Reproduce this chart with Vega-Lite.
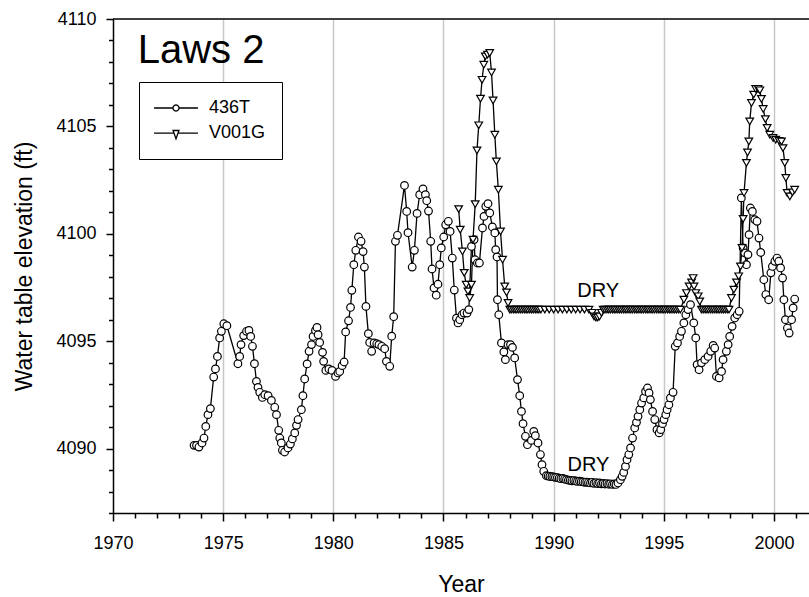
{
  "$schema": "https://vega.github.io/schema/vega-lite/v6.json",
  "width": 696,
  "height": 494,
  "autosize": "none",
  "padding": {"left": 113, "top": 19, "right": 0, "bottom": 84},
  "background": "white",
  "config": {
    "view": {"stroke": null},
    "font": "Liberation Sans"
  },
  "datasets": {
    "wells": [
      {"s":"436T","t":1973.68,"v":4090.15},{"s":"436T","t":1973.79,"v":4090.15},{"s":"436T","t":1973.90,"v":4090.07},{"s":"436T","t":1974.04,"v":4090.26},{"s":"436T","t":1974.13,"v":4090.49},{"s":"436T","t":1974.21,"v":4091.03},{"s":"436T","t":1974.31,"v":4091.58},{"s":"436T","t":1974.42,"v":4091.86},{"s":"436T","t":1974.57,"v":4093.33},{"s":"436T","t":1974.65,"v":4093.71},{"s":"436T","t":1974.74,"v":4094.29},{"s":"436T","t":1974.84,"v":4095.15},{"s":"436T","t":1974.92,"v":4095.46},{"s":"436T","t":1975.03,"v":4095.81},{"s":"436T","t":1975.17,"v":4095.72},{"s":"436T","t":1975.67,"v":4093.95},{"s":"436T","t":1975.75,"v":4094.29},{"s":"436T","t":1975.81,"v":4094.84},{"s":"436T","t":1975.93,"v":4095.26},{"s":"436T","t":1976.06,"v":4095.46},{"s":"436T","t":1976.17,"v":4095.50},{"s":"436T","t":1976.25,"v":4095.22},{"s":"436T","t":1976.33,"v":4094.76},{"s":"436T","t":1976.42,"v":4093.95},{"s":"436T","t":1976.51,"v":4093.13},{"s":"436T","t":1976.58,"v":4092.85},{"s":"436T","t":1976.66,"v":4092.62},{"s":"436T","t":1976.78,"v":4092.38},{"s":"436T","t":1976.89,"v":4092.51},{"s":"436T","t":1977.04,"v":4092.46},{"s":"436T","t":1977.19,"v":4092.24},{"s":"436T","t":1977.34,"v":4091.92},{"s":"436T","t":1977.42,"v":4091.58},{"s":"436T","t":1977.52,"v":4090.85},{"s":"436T","t":1977.57,"v":4090.49},{"s":"436T","t":1977.64,"v":4090.26},{"s":"436T","t":1977.69,"v":4089.92},{"s":"436T","t":1977.79,"v":4089.84},{"s":"436T","t":1977.94,"v":4090.03},{"s":"436T","t":1978.05,"v":4090.21},{"s":"436T","t":1978.14,"v":4090.45},{"s":"436T","t":1978.25,"v":4090.73},{"s":"436T","t":1978.33,"v":4091.08},{"s":"436T","t":1978.40,"v":4091.35},{"s":"436T","t":1978.55,"v":4091.81},{"s":"436T","t":1978.62,"v":4092.46},{"s":"436T","t":1978.70,"v":4093.24},{"s":"436T","t":1978.81,"v":4093.94},{"s":"436T","t":1978.90,"v":4094.53},{"s":"436T","t":1979.01,"v":4094.84},{"s":"436T","t":1979.08,"v":4095.22},{"s":"436T","t":1979.19,"v":4095.50},{"s":"436T","t":1979.26,"v":4095.64},{"s":"436T","t":1979.31,"v":4095.30},{"s":"436T","t":1979.38,"v":4094.94},{"s":"436T","t":1979.51,"v":4094.48},{"s":"436T","t":1979.56,"v":4094.06},{"s":"436T","t":1979.66,"v":4093.64},{"s":"436T","t":1979.80,"v":4093.71},{"s":"436T","t":1979.94,"v":4093.64},{"s":"436T","t":1980.10,"v":4093.36},{"s":"436T","t":1980.21,"v":4093.52},{"s":"436T","t":1980.29,"v":4093.59},{"s":"436T","t":1980.40,"v":4093.86},{"s":"436T","t":1980.49,"v":4094.03},{"s":"436T","t":1980.56,"v":4095.43},{"s":"436T","t":1980.69,"v":4095.95},{"s":"436T","t":1980.78,"v":4096.57},{"s":"436T","t":1980.84,"v":4097.37},{"s":"436T","t":1980.93,"v":4098.56},{"s":"436T","t":1981.02,"v":4099.23},{"s":"436T","t":1981.14,"v":4099.85},{"s":"436T","t":1981.26,"v":4099.65},{"s":"436T","t":1981.35,"v":4099.17},{"s":"436T","t":1981.41,"v":4098.45},{"s":"436T","t":1981.48,"v":4096.62},{"s":"436T","t":1981.59,"v":4095.35},{"s":"436T","t":1981.65,"v":4094.94},{"s":"436T","t":1981.74,"v":4094.53},{"s":"436T","t":1981.85,"v":4094.92},{"s":"436T","t":1981.97,"v":4094.88},{"s":"436T","t":1982.07,"v":4094.84},{"s":"436T","t":1982.20,"v":4094.76},{"s":"436T","t":1982.33,"v":4094.65},{"s":"436T","t":1982.41,"v":4094.06},{"s":"436T","t":1982.56,"v":4093.83},{"s":"436T","t":1982.65,"v":4095.23},{"s":"436T","t":1982.74,"v":4096.14},{"s":"436T","t":1982.82,"v":4099.65},{"s":"436T","t":1982.91,"v":4099.93},{"s":"436T","t":1983.23,"v":4102.25},{"s":"436T","t":1983.33,"v":4101.04},{"s":"436T","t":1983.39,"v":4100.05},{"s":"436T","t":1983.58,"v":4098.45},{"s":"436T","t":1983.68,"v":4099.23},{"s":"436T","t":1983.80,"v":4100.95},{"s":"436T","t":1983.92,"v":4101.82},{"s":"436T","t":1984.07,"v":4102.09},{"s":"436T","t":1984.18,"v":4101.82},{"s":"436T","t":1984.24,"v":4101.54},{"s":"436T","t":1984.32,"v":4101.06},{"s":"436T","t":1984.42,"v":4099.65},{"s":"436T","t":1984.48,"v":4098.36},{"s":"436T","t":1984.57,"v":4097.48},{"s":"436T","t":1984.67,"v":4097.14},{"s":"436T","t":1984.75,"v":4097.65},{"s":"436T","t":1984.83,"v":4098.56},{"s":"436T","t":1984.90,"v":4099.34},{"s":"436T","t":1985.01,"v":4099.85},{"s":"436T","t":1985.10,"v":4100.42},{"s":"436T","t":1985.22,"v":4100.58},{"s":"436T","t":1985.30,"v":4100.11},{"s":"436T","t":1985.40,"v":4098.87},{"s":"436T","t":1985.49,"v":4097.38},{"s":"436T","t":1985.59,"v":4096.07},{"s":"436T","t":1985.66,"v":4095.85},{"s":"436T","t":1985.74,"v":4096.00},{"s":"436T","t":1985.84,"v":4096.23},{"s":"436T","t":1985.93,"v":4096.31},{"s":"436T","t":1986.07,"v":4096.31},{"s":"436T","t":1986.15,"v":4096.47},{"s":"436T","t":1986.27,"v":4099.41},{"s":"436T","t":1986.39,"v":4099.73},{"s":"436T","t":1986.43,"v":4098.79},{"s":"436T","t":1986.54,"v":4098.64},{"s":"436T","t":1986.63,"v":4098.64},{"s":"436T","t":1986.77,"v":4100.27},{"s":"436T","t":1986.84,"v":4100.81},{"s":"436T","t":1986.92,"v":4101.28},{"s":"436T","t":1987.02,"v":4101.40},{"s":"436T","t":1987.10,"v":4100.97},{"s":"436T","t":1987.22,"v":4100.32},{"s":"436T","t":1987.33,"v":4100.04},{"s":"436T","t":1987.37,"v":4099.26},{"s":"436T","t":1987.43,"v":4098.92},{"s":"436T","t":1987.45,"v":4096.93},{"s":"436T","t":1987.51,"v":4096.23},{"s":"436T","t":1987.63,"v":4094.92},{"s":"436T","t":1987.74,"v":4094.50},{"s":"436T","t":1987.81,"v":4094.14},{"s":"436T","t":1987.93,"v":4094.84},{"s":"436T","t":1988.04,"v":4094.84},{"s":"436T","t":1988.13,"v":4094.71},{"s":"436T","t":1988.23,"v":4094.22},{"s":"436T","t":1988.36,"v":4093.21},{"s":"436T","t":1988.46,"v":4092.46},{"s":"436T","t":1988.54,"v":4091.73},{"s":"436T","t":1988.61,"v":4091.16},{"s":"436T","t":1988.72,"v":4090.57},{"s":"436T","t":1988.81,"v":4090.18},{"s":"436T","t":1988.99,"v":4090.38},{"s":"436T","t":1989.10,"v":4090.80},{"s":"436T","t":1989.17,"v":4090.60},{"s":"436T","t":1989.29,"v":4090.26},{"s":"436T","t":1989.40,"v":4089.72},{"s":"436T","t":1989.47,"v":4089.25},{"s":"436T","t":1989.55,"v":4088.94},{"s":"436T","t":1989.67,"v":4088.74},
      {"s":"436T","t":1989.75,"v":4088.72},{"s":"436T","t":1989.83,"v":4088.70},{"s":"436T","t":1989.92,"v":4088.69},{"s":"436T","t":1990.00,"v":4088.68},{"s":"436T","t":1990.08,"v":4088.66},{"s":"436T","t":1990.17,"v":4088.65},{"s":"436T","t":1990.25,"v":4088.62},{"s":"436T","t":1990.33,"v":4088.60},{"s":"436T","t":1990.42,"v":4088.61},{"s":"436T","t":1990.50,"v":4088.58},{"s":"436T","t":1990.58,"v":4088.55},{"s":"436T","t":1990.67,"v":4088.53},{"s":"436T","t":1990.75,"v":4088.52},{"s":"436T","t":1990.83,"v":4088.50},{"s":"436T","t":1990.92,"v":4088.51},{"s":"436T","t":1991.00,"v":4088.49},{"s":"436T","t":1991.08,"v":4088.47},{"s":"436T","t":1991.17,"v":4088.48},{"s":"436T","t":1991.25,"v":4088.46},{"s":"436T","t":1991.33,"v":4088.45},{"s":"436T","t":1991.42,"v":4088.43},{"s":"436T","t":1991.50,"v":4088.44},{"s":"436T","t":1991.58,"v":4088.42},{"s":"436T","t":1991.67,"v":4088.40},{"s":"436T","t":1991.75,"v":4088.43},{"s":"436T","t":1991.83,"v":4088.38},{"s":"436T","t":1991.92,"v":4088.41},{"s":"436T","t":1992.00,"v":4088.37},{"s":"436T","t":1992.08,"v":4088.40},{"s":"436T","t":1992.17,"v":4088.36},{"s":"436T","t":1992.25,"v":4088.38},{"s":"436T","t":1992.33,"v":4088.35},{"s":"436T","t":1992.42,"v":4088.37},{"s":"436T","t":1992.50,"v":4088.34},{"s":"436T","t":1992.58,"v":4088.36},{"s":"436T","t":1992.67,"v":4088.33},{"s":"436T","t":1992.75,"v":4088.35},{"s":"436T","t":1992.83,"v":4088.33},
      {"s":"436T","t":1992.92,"v":4088.40},{"s":"436T","t":1993.03,"v":4088.55},{"s":"436T","t":1993.11,"v":4088.71},{"s":"436T","t":1993.18,"v":4088.89},{"s":"436T","t":1993.26,"v":4089.17},{"s":"436T","t":1993.33,"v":4089.48},{"s":"436T","t":1993.41,"v":4089.72},{"s":"436T","t":1993.49,"v":4090.03},{"s":"436T","t":1993.58,"v":4090.49},{"s":"436T","t":1993.68,"v":4090.96},{"s":"436T","t":1993.76,"v":4091.22},{"s":"436T","t":1993.83,"v":4091.50},{"s":"436T","t":1993.91,"v":4091.81},{"s":"436T","t":1993.99,"v":4092.12},{"s":"436T","t":1994.09,"v":4092.36},{"s":"436T","t":1994.17,"v":4092.66},{"s":"436T","t":1994.26,"v":4092.82},{"s":"436T","t":1994.33,"v":4092.59},{"s":"436T","t":1994.39,"v":4092.28},{"s":"436T","t":1994.49,"v":4091.73},{"s":"436T","t":1994.59,"v":4091.35},{"s":"436T","t":1994.69,"v":4090.88},{"s":"436T","t":1994.79,"v":4090.73},{"s":"436T","t":1994.86,"v":4090.88},{"s":"436T","t":1994.94,"v":4091.16},{"s":"436T","t":1995.01,"v":4091.35},{"s":"436T","t":1995.09,"v":4091.58},{"s":"436T","t":1995.15,"v":4091.81},{"s":"436T","t":1995.23,"v":4092.04},{"s":"436T","t":1995.30,"v":4092.36},{"s":"436T","t":1995.42,"v":4092.62},{"s":"436T","t":1995.52,"v":4094.76},{"s":"436T","t":1995.62,"v":4094.92},{"s":"436T","t":1995.72,"v":4095.22},{"s":"436T","t":1995.80,"v":4095.46},{"s":"436T","t":1995.91,"v":4095.85},{"s":"436T","t":1996.00,"v":4096.23},{"s":"436T","t":1996.10,"v":4096.47},{"s":"436T","t":1996.21,"v":4096.70},{"s":"436T","t":1996.36,"v":4095.85},{"s":"436T","t":1996.45,"v":4095.15},{"s":"436T","t":1996.51,"v":4093.91},{"s":"436T","t":1996.60,"v":4093.67},{"s":"436T","t":1996.71,"v":4093.99},{"s":"436T","t":1996.86,"v":4094.14},{"s":"436T","t":1997.01,"v":4094.29},{"s":"436T","t":1997.13,"v":4094.53},{"s":"436T","t":1997.24,"v":4094.80},{"s":"436T","t":1997.31,"v":4094.68},{"s":"436T","t":1997.39,"v":4093.36},{"s":"436T","t":1997.51,"v":4093.29},{"s":"436T","t":1997.62,"v":4093.59},{"s":"436T","t":1997.69,"v":4094.14},{"s":"436T","t":1997.84,"v":4094.53},{"s":"436T","t":1997.92,"v":4094.84},{"s":"436T","t":1997.99,"v":4095.22},{"s":"436T","t":1998.10,"v":4095.69},{"s":"436T","t":1998.22,"v":4096.08},{"s":"436T","t":1998.33,"v":4096.23},{"s":"436T","t":1998.42,"v":4096.39},{"s":"436T","t":1998.52,"v":4101.67},{"s":"436T","t":1998.60,"v":4099.34},{"s":"436T","t":1998.67,"v":4099.11},{"s":"436T","t":1998.75,"v":4098.56},{"s":"436T","t":1998.82,"v":4099.03},{"s":"436T","t":1998.87,"v":4099.96},{"s":"436T","t":1998.93,"v":4101.20},{"s":"436T","t":1999.02,"v":4101.04},{"s":"436T","t":1999.13,"v":4100.66},{"s":"436T","t":1999.23,"v":4100.58},{"s":"436T","t":1999.32,"v":4099.80},{"s":"436T","t":1999.40,"v":4099.13},{"s":"436T","t":1999.54,"v":4097.86},{"s":"436T","t":1999.63,"v":4097.17},{"s":"436T","t":1999.76,"v":4096.93},{"s":"436T","t":1999.86,"v":4098.18},{"s":"436T","t":1999.93,"v":4098.48},{"s":"436T","t":2000.04,"v":4098.72},{"s":"436T","t":2000.14,"v":4098.87},{"s":"436T","t":2000.22,"v":4098.72},{"s":"436T","t":2000.30,"v":4098.41},{"s":"436T","t":2000.39,"v":4097.94},{"s":"436T","t":2000.45,"v":4096.93},{"s":"436T","t":2000.52,"v":4096.00},{"s":"436T","t":2000.61,"v":4095.61},{"s":"436T","t":2000.69,"v":4095.38},{"s":"436T","t":2000.80,"v":4096.00},{"s":"436T","t":2000.87,"v":4096.55},{"s":"436T","t":2000.94,"v":4096.96},
      {"s":"V001G","t":1985.69,"v":4101.15},{"s":"V001G","t":1985.76,"v":4100.19},{"s":"V001G","t":1985.86,"v":4099.18},{"s":"V001G","t":1985.94,"v":4098.18},{"s":"V001G","t":1986.03,"v":4097.63},{"s":"V001G","t":1986.11,"v":4097.32},{"s":"V001G","t":1986.19,"v":4097.01},{"s":"V001G","t":1986.27,"v":4097.63},{"s":"V001G","t":1986.34,"v":4099.73},{"s":"V001G","t":1986.44,"v":4101.38},{"s":"V001G","t":1986.52,"v":4103.88},{"s":"V001G","t":1986.60,"v":4105.05},{"s":"V001G","t":1986.68,"v":4106.29},{"s":"V001G","t":1986.75,"v":4107.17},{"s":"V001G","t":1986.83,"v":4107.87},{"s":"V001G","t":1986.90,"v":4108.26},{"s":"V001G","t":1987.00,"v":4108.34},{"s":"V001G","t":1987.10,"v":4108.42},{"s":"V001G","t":1987.18,"v":4107.51},{"s":"V001G","t":1987.25,"v":4106.21},{"s":"V001G","t":1987.33,"v":4104.61},{"s":"V001G","t":1987.40,"v":4103.37},{"s":"V001G","t":1987.49,"v":4102.05},{"s":"V001G","t":1987.59,"v":4100.11},{"s":"V001G","t":1987.68,"v":4098.79},{"s":"V001G","t":1987.78,"v":4097.55},{"s":"V001G","t":1987.86,"v":4097.27},{"s":"V001G","t":1987.93,"v":4096.78},{"s":"V001G","t":1988.01,"v":4096.47},
      {"s":"V001G","t":1988.08,"v":4096.47},{"s":"V001G","t":1988.17,"v":4096.47},{"s":"V001G","t":1988.25,"v":4096.47},{"s":"V001G","t":1988.33,"v":4096.47},{"s":"V001G","t":1988.42,"v":4096.47},{"s":"V001G","t":1988.50,"v":4096.47},{"s":"V001G","t":1988.58,"v":4096.47},{"s":"V001G","t":1988.67,"v":4096.47},{"s":"V001G","t":1988.75,"v":4096.47},{"s":"V001G","t":1988.83,"v":4096.47},{"s":"V001G","t":1988.92,"v":4096.47},{"s":"V001G","t":1989.00,"v":4096.47},{"s":"V001G","t":1989.08,"v":4096.47},{"s":"V001G","t":1989.17,"v":4096.47},{"s":"V001G","t":1989.25,"v":4096.47},{"s":"V001G","t":1989.33,"v":4096.47},{"s":"V001G","t":1989.42,"v":4096.47},{"s":"V001G","t":1989.60,"v":4096.47},{"s":"V001G","t":1989.80,"v":4096.47},{"s":"V001G","t":1990.00,"v":4096.47},{"s":"V001G","t":1990.20,"v":4096.47},{"s":"V001G","t":1990.40,"v":4096.47},{"s":"V001G","t":1990.60,"v":4096.47},{"s":"V001G","t":1990.80,"v":4096.47},{"s":"V001G","t":1991.00,"v":4096.47},{"s":"V001G","t":1991.20,"v":4096.47},{"s":"V001G","t":1991.40,"v":4096.47},{"s":"V001G","t":1991.60,"v":4096.47},{"s":"V001G","t":1991.75,"v":4096.32},{"s":"V001G","t":1991.83,"v":4096.15},{"s":"V001G","t":1991.92,"v":4096.10},{"s":"V001G","t":1992.00,"v":4096.10},{"s":"V001G","t":1992.08,"v":4096.15},{"s":"V001G","t":1992.17,"v":4096.32},{"s":"V001G","t":1992.25,"v":4096.47},{"s":"V001G","t":1992.33,"v":4096.47},{"s":"V001G","t":1992.42,"v":4096.47},{"s":"V001G","t":1992.50,"v":4096.47},{"s":"V001G","t":1992.58,"v":4096.47},{"s":"V001G","t":1992.67,"v":4096.47},{"s":"V001G","t":1992.75,"v":4096.47},{"s":"V001G","t":1992.83,"v":4096.47},{"s":"V001G","t":1992.92,"v":4096.47},{"s":"V001G","t":1993.00,"v":4096.47},{"s":"V001G","t":1993.08,"v":4096.47},{"s":"V001G","t":1993.17,"v":4096.47},{"s":"V001G","t":1993.25,"v":4096.47},{"s":"V001G","t":1993.33,"v":4096.47},{"s":"V001G","t":1993.42,"v":4096.47},{"s":"V001G","t":1993.50,"v":4096.47},{"s":"V001G","t":1993.58,"v":4096.47},{"s":"V001G","t":1993.67,"v":4096.47},{"s":"V001G","t":1993.75,"v":4096.47},{"s":"V001G","t":1993.83,"v":4096.47},{"s":"V001G","t":1993.92,"v":4096.47},{"s":"V001G","t":1994.00,"v":4096.47},{"s":"V001G","t":1994.08,"v":4096.47},{"s":"V001G","t":1994.17,"v":4096.47},{"s":"V001G","t":1994.25,"v":4096.47},{"s":"V001G","t":1994.33,"v":4096.47},{"s":"V001G","t":1994.42,"v":4096.47},{"s":"V001G","t":1994.50,"v":4096.47},{"s":"V001G","t":1994.58,"v":4096.47},{"s":"V001G","t":1994.67,"v":4096.47},{"s":"V001G","t":1994.75,"v":4096.47},{"s":"V001G","t":1994.83,"v":4096.47},{"s":"V001G","t":1994.92,"v":4096.47},{"s":"V001G","t":1995.00,"v":4096.47},{"s":"V001G","t":1995.08,"v":4096.47},{"s":"V001G","t":1995.17,"v":4096.47},{"s":"V001G","t":1995.25,"v":4096.47},{"s":"V001G","t":1995.33,"v":4096.47},{"s":"V001G","t":1995.42,"v":4096.47},{"s":"V001G","t":1995.50,"v":4096.47},{"s":"V001G","t":1995.58,"v":4096.47},{"s":"V001G","t":1995.67,"v":4096.47},{"s":"V001G","t":1995.75,"v":4096.47},
      {"s":"V001G","t":1995.91,"v":4096.93},{"s":"V001G","t":1996.03,"v":4097.24},{"s":"V001G","t":1996.15,"v":4097.55},{"s":"V001G","t":1996.26,"v":4097.74},{"s":"V001G","t":1996.33,"v":4097.94},{"s":"V001G","t":1996.37,"v":4097.55},{"s":"V001G","t":1996.45,"v":4097.24},{"s":"V001G","t":1996.56,"v":4097.09},{"s":"V001G","t":1996.63,"v":4096.85},{"s":"V001G","t":1996.71,"v":4096.47},
      {"s":"V001G","t":1996.79,"v":4096.47},{"s":"V001G","t":1996.88,"v":4096.47},{"s":"V001G","t":1996.96,"v":4096.47},{"s":"V001G","t":1997.04,"v":4096.47},{"s":"V001G","t":1997.13,"v":4096.47},{"s":"V001G","t":1997.21,"v":4096.47},{"s":"V001G","t":1997.29,"v":4096.47},{"s":"V001G","t":1997.38,"v":4096.47},{"s":"V001G","t":1997.46,"v":4096.47},{"s":"V001G","t":1997.54,"v":4096.47},{"s":"V001G","t":1997.63,"v":4096.47},{"s":"V001G","t":1997.71,"v":4096.47},{"s":"V001G","t":1997.79,"v":4096.47},{"s":"V001G","t":1997.88,"v":4096.47},{"s":"V001G","t":1997.96,"v":4096.47},
      {"s":"V001G","t":1998.07,"v":4097.01},{"s":"V001G","t":1998.18,"v":4097.40},{"s":"V001G","t":1998.30,"v":4097.74},{"s":"V001G","t":1998.40,"v":4098.02},{"s":"V001G","t":1998.48,"v":4098.48},{"s":"V001G","t":1998.55,"v":4099.34},{"s":"V001G","t":1998.60,"v":4100.69},{"s":"V001G","t":1998.64,"v":4101.90},{"s":"V001G","t":1998.75,"v":4103.30},{"s":"V001G","t":1998.80,"v":4103.79},{"s":"V001G","t":1998.86,"v":4104.30},{"s":"V001G","t":1998.90,"v":4105.23},{"s":"V001G","t":1998.98,"v":4106.09},{"s":"V001G","t":1999.08,"v":4106.48},{"s":"V001G","t":1999.17,"v":4106.74},{"s":"V001G","t":1999.28,"v":4106.74},{"s":"V001G","t":1999.36,"v":4106.68},{"s":"V001G","t":1999.43,"v":4106.28},{"s":"V001G","t":1999.51,"v":4105.81},{"s":"V001G","t":1999.61,"v":4105.34},{"s":"V001G","t":1999.69,"v":4104.93},{"s":"V001G","t":1999.81,"v":4104.61},{"s":"V001G","t":1999.96,"v":4104.46},{"s":"V001G","t":2000.08,"v":4104.38},{"s":"V001G","t":2000.23,"v":4104.33},{"s":"V001G","t":2000.34,"v":4104.30},{"s":"V001G","t":2000.41,"v":4103.99},{"s":"V001G","t":2000.49,"v":4103.30},{"s":"V001G","t":2000.54,"v":4102.60},{"s":"V001G","t":2000.60,"v":4101.90},{"s":"V001G","t":2000.72,"v":4101.74},{"s":"V001G","t":2000.84,"v":4101.93},{"s":"V001G","t":2000.94,"v":4102.05}
    ]
  },
  "layer": [
    {
      "data": {"name": "wells"},
      "mark": {"type": "line", "color": "black", "strokeWidth": 1.3},
      "encoding": {
        "x": {
          "field": "t", "type": "quantitative", "title": "Year",
          "scale": {"domain": [1970, 2001.59], "nice": false, "zero": false},
          "axis": {
            "values": [1970,1971,1972,1973,1974,1975,1976,1977,1978,1979,1980,1981,1982,1983,1984,1985,1986,1987,1988,1989,1990,1991,1992,1993,1994,1995,1996,1997,1998,1999,2000,2001],
            "tickCount": 32,
            "format": "d",
            "labelExpr": "datum.value % 5 === 0 ? datum.label : ''",
            "tickSize": {"condition": {"test": "datum.value % 5 === 0", "value": 8}, "value": 5},
            "grid": true,
            "gridColor": "#c8c8c8",
            "gridWidth": 1.5,
            "gridOpacity": {"condition": {"test": "datum.value % 5 === 0 && datum.value > 1970", "value": 1}, "value": 0},
            "domainColor": "black", "domainWidth": 1.5,
            "tickColor": "black", "tickWidth": 1.5,
            "labelFont": "Liberation Sans", "labelFontSize": 18, "labelColor": "black",
            "labelPadding": 13, "labelFlush": false, "labelOverlap": false,
            "titleFont": "Liberation Sans", "titleFontSize": 23, "titleFontWeight": "normal", "titleColor": "black",
            "titlePadding": 21
          }
        },
        "y": {
          "field": "v", "type": "quantitative", "title": "Water table elevation (ft)",
          "scale": {"domain": [4087, 4110], "nice": false, "zero": false},
          "axis": {
            "values": [4087,4088,4089,4090,4091,4092,4093,4094,4095,4096,4097,4098,4099,4100,4101,4102,4103,4104,4105,4106,4107,4108,4109,4110],
            "tickCount": 24,
            "format": "d",
            "labelExpr": "datum.value % 5 === 0 ? datum.label : ''",
            "tickSize": {"condition": {"test": "datum.value % 5 === 0", "value": 7}, "value": 4.5},
            "grid": false,
            "domainColor": "black", "domainWidth": 1.5,
            "tickColor": "black", "tickWidth": 1.5,
            "labelFont": "Liberation Sans", "labelFontSize": 18, "labelColor": "black",
            "labelPadding": 10, "labelOverlap": false,
            "titleFont": "Liberation Sans", "titleFontSize": 23, "titleFontWeight": "normal", "titleColor": "black",
            "titlePadding": 19
          }
        },
        "detail": {"field": "s", "type": "nominal"}
      }
    },
    {
      "data": {"name": "wells"},
      "mark": {"type": "point", "filled": true, "fill": "white", "stroke": "black", "strokeWidth": 1.2, "size": 58, "opacity": 1},
      "encoding": {
        "x": {"field": "t", "type": "quantitative", "title": "Year", "scale": {"domain": [1970, 2001.59], "nice": false, "zero": false}},
        "y": {"field": "v", "type": "quantitative", "title": "Water table elevation (ft)", "scale": {"domain": [4087, 4110], "nice": false, "zero": false}},
        "shape": {"field": "s", "type": "nominal", "scale": {"domain": ["436T", "V001G"], "range": ["circle", "triangle-down"]}, "legend": null}
      }
    },
    {
      "data": {"name": "wells"},
      "transform": [{"filter": "false"}],
      "mark": {"type": "point", "filled": false, "color": "black", "strokeWidth": 1.3, "size": 324},
      "encoding": {
        "x": {"field": "t", "type": "quantitative", "title": "Year", "scale": {"domain": [1970, 2001.59], "nice": false, "zero": false}},
        "y": {"field": "v", "type": "quantitative", "title": "Water table elevation (ft)", "scale": {"domain": [4087, 4110], "nice": false, "zero": false}},
        "shape": {
          "field": "s", "type": "nominal",
          "scale": {"domain": ["436T", "V001G"], "range": ["M-2.44,0L-0.34,0M0.34,0L2.44,0M0.34,0L0.294,0.17L0.17,0.294L0,0.34L-0.17,0.294L-0.294,0.17L-0.34,0L-0.294,-0.17L-0.17,-0.294L0,-0.34L0.17,-0.294L0.294,-0.17Z", "M-2.44,0L-0.22,0M0.22,0L2.44,0M-0.33,-0.3L0.33,-0.3L0,0.62Z"]},
          "legend": {
            "title": null,
            "orient": "none",
            "legendX": 26,
            "legendY": 63,
            "padding": 16,
            "strokeColor": "black",
            "fillColor": "white",
            "labelFont": "Liberation Sans",
            "labelFontSize": 18,
            "labelColor": "black",
            "labelOffset": 23,
            "symbolOffset": 11,
            "rowPadding": 6.2,
            "symbolSize": 324,
            "symbolStrokeWidth": 1.3,
            "symbolStrokeColor": "black",
            "symbolFillColor": "white",
            "symbolOpacity": 1
          }
        }
      }
    },
    {
      "data": {"values": [{}]},
      "mark": {"type": "rule", "color": "black", "strokeWidth": 1.5},
      "encoding": {
        "x": {"datum": 1970, "type": "quantitative", "title": "Year", "scale": {"domain": [1970, 2001.59], "nice": false, "zero": false}},
        "x2": {"datum": 2001.59},
        "y": {"datum": 4110, "type": "quantitative", "title": "Water table elevation (ft)", "scale": {"domain": [4087, 4110], "nice": false, "zero": false}}
      }
    },
    {
      "data": {"values": [{}]},
      "mark": {"type": "text", "font": "Liberation Sans", "fontSize": 40, "align": "left", "baseline": "alphabetic", "color": "black"},
      "encoding": {
        "x": {"datum": 1971.12, "type": "quantitative", "title": "Year", "scale": {"domain": [1970, 2001.59], "nice": false, "zero": false}},
        "y": {"datum": 4107.95, "type": "quantitative", "title": "Water table elevation (ft)", "scale": {"domain": [4087, 4110], "nice": false, "zero": false}},
        "text": {"value": "Laws 2"}
      }
    },
    {
      "data": {"values": [{}]},
      "mark": {"type": "text", "font": "Liberation Sans", "fontSize": 20, "align": "center", "baseline": "alphabetic", "color": "black"},
      "encoding": {
        "x": {"datum": 1992.02, "type": "quantitative", "title": "Year", "scale": {"domain": [1970, 2001.59], "nice": false, "zero": false}},
        "y": {"datum": 4097.04, "type": "quantitative", "title": "Water table elevation (ft)", "scale": {"domain": [4087, 4110], "nice": false, "zero": false}},
        "text": {"value": "DRY"}
      }
    },
    {
      "data": {"values": [{}]},
      "mark": {"type": "text", "font": "Liberation Sans", "fontSize": 20, "align": "center", "baseline": "alphabetic", "color": "black"},
      "encoding": {
        "x": {"datum": 1991.58, "type": "quantitative", "title": "Year", "scale": {"domain": [1970, 2001.59], "nice": false, "zero": false}},
        "y": {"datum": 4088.97, "type": "quantitative", "title": "Water table elevation (ft)", "scale": {"domain": [4087, 4110], "nice": false, "zero": false}},
        "text": {"value": "DRY"}
      }
    }
  ],
  "resolve": {"scale": {"shape": "independent"}}
}
